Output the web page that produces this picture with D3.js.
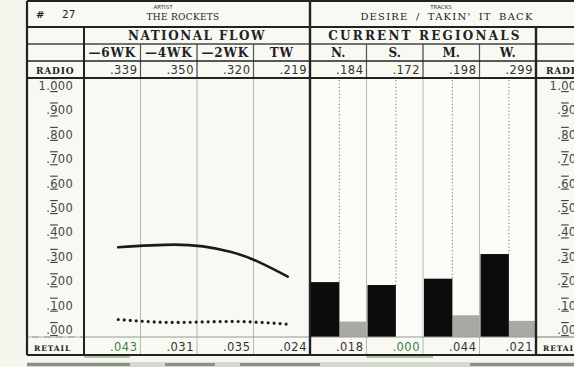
<!DOCTYPE html>
<html>
<head>
<meta charset="utf-8">
<script src="https://cdn.jsdelivr.net/npm/d3@7"></script>
<style>
  html, body { margin: 0; padding: 0; background: #f6f6ee; }
  svg { display: block; }
  .num { font-family: "DejaVu Sans", sans-serif; font-size: 11.5px; letter-spacing: 0.5px; fill: #333; }
  .head { font-family: "DejaVu Serif", serif; font-weight: bold; fill: #222; }
  .tick { font-family: "DejaVu Sans", sans-serif; font-size: 11.5px; letter-spacing: 0.3px; fill: #444; }
</style>
</head>
<body>
<svg width="574" height="367"></svg>
<script>
// chart values
var weeks = ["\u20146WK", "\u20144WK", "\u20142WK", "TW"];
var radioNational = [0.339, 0.350, 0.320, 0.219];
var retailNational = [0.043, 0.031, 0.035, 0.024];
var regions = ["N.", "S.", "M.", "W."];
var radioRegional = [0.184, 0.172, 0.198, 0.299];
var retailRegional = [0.018, 0.000, 0.044, 0.021];
var tickValues = [1, 0.9, 0.8, 0.7, 0.6, 0.5, 0.4, 0.3, 0.2, 0.1, 0];
var tickLabels = ["1.000", ".900", ".800", ".700", ".600", ".500", ".400", ".300", ".200", ".100", ".000"];
var radioNationalText = [".339", ".350", ".320", ".219"];
var retailNationalText = [".043", ".031", ".035", ".024"];
var radioRegionalText = [".184", ".172", ".198", ".299"];
var retailRegionalText = [".018", ".000", ".044", ".021"];

var svg = d3.select("svg");

// table geometry
var left = 27, labelRight = 84, split = 310, rightCol = 536, W = 574;
var rowTop = 1, row1 = 27, row2 = 44, row3 = 61, row4 = 78, plotBottom = 337, retailBottom = 355;

var nat = d3.scaleBand().domain(weeks).range([labelRight, split]);
var reg = d3.scaleBand().domain(regions).range([split, rightCol]);
var y = d3.scaleLinear().domain([0, 1]).range([330, 86]);

var dark = "#222", grid = "#b9b9b2";

// background panels
svg.append("rect").attr("x", left).attr("y", rowTop).attr("width", W - left).attr("height", retailBottom - rowTop)
  .attr("fill", "#f9f9f3");
svg.append("rect").attr("x", split).attr("y", row4).attr("width", rightCol - split).attr("height", plotBottom - row4)
  .attr("fill", "#fbfbf7");

// thin column rules inside plot
var g = svg.append("g");
nat.domain().slice(1).forEach(function(w) {
  g.append("line").attr("x1", nat(w)).attr("x2", nat(w)).attr("y1", row2).attr("y2", retailBottom)
    .attr("stroke", grid).attr("stroke-width", 1);
});
reg.domain().slice(1).forEach(function(r) {
  g.append("line").attr("x1", reg(r)).attr("x2", reg(r)).attr("y1", row2).attr("y2", retailBottom)
    .attr("stroke", grid).attr("stroke-width", 1);
});
// stronger rules in the header rows
nat.domain().slice(1).forEach(function(w) {
  g.append("line").attr("x1", nat(w)).attr("x2", nat(w)).attr("y1", row2).attr("y2", row4)
    .attr("stroke", "#555").attr("stroke-width", 1.2);
});
reg.domain().slice(1).forEach(function(r) {
  g.append("line").attr("x1", reg(r)).attr("x2", reg(r)).attr("y1", row2).attr("y2", row4)
    .attr("stroke", "#555").attr("stroke-width", 1.2);
});

// regional bars
var barW = reg.bandwidth() * 0.52;
svg.append("g").selectAll("rect").data(retailRegional).join("rect")
  .attr("x", function(d, i) { return reg(regions[i]) + barW; })
  .attr("y", function(d) { return Math.min(y(d) - 4, plotBottom); })
  .attr("width", reg.bandwidth() - barW)
  .attr("height", function(d) { return d > 0 ? plotBottom - y(d) + 4 : 0; })
  .attr("fill", "#a9a9a4");
svg.append("g").selectAll("rect").data(radioRegional).join("rect")
  .attr("x", function(d, i) { return reg(regions[i]) + 1; })
  .attr("y", function(d) { return y(d) - 3; })
  .attr("width", barW - 1)
  .attr("height", function(d) { return plotBottom - y(d) + 3; })
  .attr("fill", "#0c0c0c");
// dotted guides above the bars
svg.append("g").selectAll("line").data(radioRegional).join("line")
  .attr("x1", function(d, i) { return reg(regions[i]) + barW; })
  .attr("x2", function(d, i) { return reg(regions[i]) + barW; })
  .attr("y1", row4 + 2)
  .attr("y2", function(d) { return y(d) - 3; })
  .attr("stroke", "#8a8a86").attr("stroke-width", 1.2).attr("stroke-dasharray", "1.2,2.2");

// national flow lines
var px = function(w) { return nat(w) + nat.bandwidth() / 2 + 6; };
var line = d3.line().x(function(d, i) { return px(weeks[i]); }).y(function(d) { return y(d); })
  .curve(d3.curveMonotoneX);
svg.append("path").datum(radioNational).attr("d", line)
  .attr("fill", "none").attr("stroke", "#1b1b1b").attr("stroke-width", 2.6).attr("stroke-linecap", "round");
svg.append("path").datum(retailNational).attr("d", line)
  .attr("fill", "none").attr("stroke", "#1b1b1b").attr("stroke-width", 3.2)
  .attr("stroke-linecap", "round").attr("stroke-dasharray", "0,6");

// tick labels, left and right
function ticks(xEnd) {
  var t = svg.append("g").selectAll("text").data(tickValues).join("text")
    .attr("class", "tick").attr("x", xEnd).attr("y", function(d) { return y(d) + 4; })
    .attr("text-anchor", "end");
  t.each(function(d, i) {
    var s = tickLabels[i], k = s.indexOf(".");
    var el = d3.select(this);
    el.append("tspan").text(s.slice(0, k + 1));
    el.append("tspan").text(s.charAt(k + 1)).style("text-decoration", "underline overline");
    el.append("tspan").text(s.slice(k + 2));
  });
}
ticks(73);
ticks(584);

// table rules
function hline(x1, x2, yy, w, c) {
  svg.append("line").attr("x1", x1).attr("x2", x2).attr("y1", yy).attr("y2", yy)
    .attr("stroke", c || dark).attr("stroke-width", w);
}
function vline(xx, y1, y2, w, c) {
  svg.append("line").attr("x1", xx).attr("x2", xx).attr("y1", y1).attr("y2", y2)
    .attr("stroke", c || dark).attr("stroke-width", w);
}
hline(left, W, rowTop, 2);
hline(left, W, row1, 2);
hline(left, W, row2, 1.3, "#444");
hline(left, W, row3, 1.6);
hline(left, W, row4, 2);
hline(labelRight, rightCol, plotBottom, 1, "#9a9a94");
hline(left, labelRight, plotBottom, 1, "#777");
svg.append("line").attr("x1", left).attr("x2", labelRight).attr("y1", plotBottom).attr("y2", plotBottom)
  .attr("stroke", "#f6f6ee").attr("stroke-width", 1.2).attr("stroke-dasharray", "5,7");
hline(rightCol, W, plotBottom, 1, "#777");
hline(left, W, retailBottom, 2.2);
vline(left, rowTop, retailBottom, 2.2);
vline(labelRight, row1, retailBottom, 2);
vline(split, rowTop, retailBottom, 2.4);
vline(rightCol, row1, retailBottom, 2.4);

// green marks under retail row
hline(labelRight, 130, retailBottom + 2, 1.2, "#5a9a5a");
hline(reg("S."), reg("M.") + 10, retailBottom + 2, 1.2, "#5a9a5a");

// strip below table
svg.append("rect").attr("x", left).attr("y", 362).attr("width", W - left).attr("height", 5).attr("fill", "#d8d8d2");
[[left, 130], [165, 215], [240, 320], [470, 574]].forEach(function(s) {
  svg.append("rect").attr("x", s[0]).attr("y", 363).attr("width", s[1] - s[0]).attr("height", 3).attr("fill", "#8e8e8a");
});

// header texts
svg.append("text").attr("x", 36).attr("y", 18).attr("class", "head").attr("font-size", 10).text("#");
svg.append("text").attr("x", 62).attr("y", 18).attr("font-family", "DejaVu Sans").attr("font-size", 10.5).attr("fill", "#222").text("27");
svg.append("text").attr("x", 163).attr("y", 9).attr("text-anchor", "middle")
  .attr("font-family", "DejaVu Sans").attr("font-size", 5.5).attr("fill", "#333").text("ARTIST");
svg.append("text").attr("x", 183).attr("y", 20).attr("text-anchor", "middle")
  .attr("font-family", "DejaVu Serif").attr("font-size", 9).attr("fill", "#222")
  .attr("letter-spacing", 0.3).text("THE ROCKETS");
svg.append("text").attr("x", 441).attr("y", 9).attr("text-anchor", "middle")
  .attr("font-family", "DejaVu Sans").attr("font-size", 5.5).attr("fill", "#333").text("TRACKS");
svg.append("text").attr("x", 447).attr("y", 20).attr("text-anchor", "middle")
  .attr("font-family", "DejaVu Serif").attr("font-size", 10).attr("fill", "#222")
  .attr("letter-spacing", 1.2).attr("word-spacing", 3).text("DESIRE / TAKIN' IT BACK");

svg.append("text").attr("class", "head").attr("x", (labelRight + split) / 2).attr("y", 40)
  .attr("text-anchor", "middle").attr("font-size", 12).attr("letter-spacing", 1.5).text("NATIONAL FLOW");
svg.append("text").attr("class", "head").attr("x", (split + rightCol) / 2 + 2).attr("y", 40)
  .attr("text-anchor", "middle").attr("font-size", 12).attr("letter-spacing", 2.2).text("CURRENT REGIONALS");

svg.append("g").selectAll("text").data(weeks).join("text").attr("class", "head")
  .attr("x", function(d) { return nat(d) + nat.bandwidth() / 2; }).attr("y", 57)
  .attr("text-anchor", "middle").attr("font-size", 12).attr("letter-spacing", 0.8).text(function(d) { return d; });
svg.append("g").selectAll("text").data(regions).join("text").attr("class", "head")
  .attr("x", function(d) { return reg(d) + reg.bandwidth() / 2; }).attr("y", 57)
  .attr("text-anchor", "middle").attr("font-size", 12).text(function(d) { return d; });

// row labels
[[36, 74, "RADIO"], [546, 74, "RADIO"]].forEach(function(a) {
  svg.append("text").attr("class", "head").attr("x", a[0]).attr("y", a[1]).attr("font-size", 9)
    .attr("letter-spacing", 0.8).text(a[2]);
});
[[34, 351, "RETAIL"], [543, 351, "RETAIL"]].forEach(function(a) {
  svg.append("text").attr("class", "head").attr("x", a[0]).attr("y", a[1]).attr("font-size", 7.5)
    .attr("letter-spacing", 0.9).attr("fill", "#333").text(a[2]);
});

// value rows
function values(scale, keys, txt, yy, colors) {
  svg.append("g").selectAll("text").data(txt).join("text").attr("class", "num")
    .attr("x", function(d, i) { return scale(keys[i]) + scale.bandwidth() - 3; }).attr("y", yy)
    .attr("text-anchor", "end")
    .style("fill", function(d, i) { return colors ? colors[i] : null; })
    .text(function(d) { return d; });
}
values(nat, weeks, radioNationalText, 74);
values(reg, regions, radioRegionalText, 74);
values(nat, weeks, retailNationalText, 351, ["#3f7f46", "#333", "#333", "#333"]);
values(reg, regions, retailRegionalText, 351, ["#333", "#3f7f46", "#333", "#333"]);
</script>
</body>
</html>
